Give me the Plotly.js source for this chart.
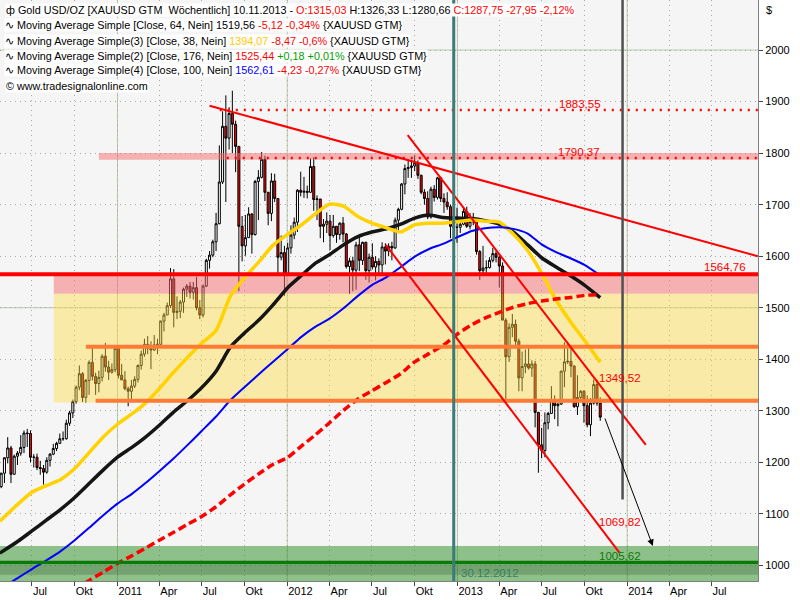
<!DOCTYPE html>
<html><head><meta charset="utf-8">
<script src="https://cdn.plot.ly/plotly-3.0.1.min.js"></script>
<style>html,body{margin:0;padding:0;background:#fff}#chart{width:800px;height:600px}</style>
</head><body><div id="chart"></div>
<script>
// ================= DATA =================
const firstWeek = '2010-04-26';   // weekly candles (Monday of each week)
const opens = [
1153,1179,1209,1228,1177,1212,1218,1229,1257,1256,1210,1210,1190,1188,1181,1204,1216,1227,1237,1246,1246,1276,1296,1318,1346,1372,1326,1359,1394,1367,1353,1365,1406,1385,1375,1380,
1421,1369,1360,1343,1338,1348,1361,1388,1410,1429,1421,1418,1428,1429,1474,1486,1504,1556,1491,1493,1511,1536,1542,1530,1539,1500,1486,1542,1592,1602,1628,1663,1744,1852,1829,1877,1856,1813,1658,1620,1636,1682,1642,1745,1753,1788,1724,1683,1746,1712,1598,1607,
1565,1616,1641,1666,1728,1724,1726,1724,1774,1710,1711,1658,1662,1668,1640,1658,1642,1664,1643,1580,1591,1573,1622,1592,1627,1572,1598,1579,1590,1583,1618,1610,1619,1616,1670,1691,1740,1770,1772,1775,1781,1757,1724,1712,1676,1730,1714,1752,1712,1705,1696,1658,1656,
1656,1662,1687,1658,1667,1667,1609,1572,1577,1578,1592,1605,1598,1581,1476,1405,1462,1468,1435,1364,1386,1391,1383,1391,1297,1234,1223,1277,1295,1322,1310,1313,1377,1395,1396,1387,1308,1326,1338,1310,1273,1315,1351,1315.03];
const highs = [
1180,1210,1249,1232,1215,1222,1253,1262,1265,1262,1216,1217,1203,1195,1210,1218,1236,1240,1256,1260,1283,1300,1322,1349,1388,1375,1362,1398,1424,1374,1378,1410,1432,1397,1392,1424,
1423,1391,1377,1347,1360,1367,1390,1417,1440,1445,1435,1447,1440,1475,1490,1510,1577,1575,1522,1515,1539,1546,1550,1550,1560,1515,1545,1595,1610,1632,1684,1815,1881,1912,1889,1921,1863,1813,1678,1680,1695,1683,1748,1767,1802,1795,1724,1761,1760,1712,1640,1620,
1626,1660,1675,1730,1764,1754,1737,1790,1792,1718,1711,1672,1685,1680,1680,1658,1666,1676,1645,1597,1599,1628,1641,1628,1628,1605,1625,1600,1596,1627,1625,1625,1628,1675,1694,1742,1778,1788,1787,1796,1786,1758,1730,1726,1735,1738,1754,1754,1722,1724,1700,1670,1694,
1672,1695,1696,1684,1684,1668,1612,1620,1592,1598,1616,1611,1605,1588,1480,1470,1488,1477,1440,1415,1419,1424,1398,1397,1298,1267,1297,1298,1348,1330,1315,1378,1433,1434,1420,1388,1369,1340,1340,1330,1325,1361,1361,1326.33];
const lows = [
1150,1160,1198,1160,1176,1195,1213,1218,1230,1200,1190,1185,1176,1157,1178,1192,1214,1222,1236,1242,1244,1271,1286,1314,1340,1317,1316,1331,1359,1331,1336,1357,1376,1360,1372,1375,
1363,1360,1340,1309,1320,1344,1355,1380,1405,1410,1381,1416,1410,1425,1454,1486,1500,1462,1478,1480,1490,1521,1518,1516,1495,1478,1481,1540,1576,1598,1610,1662,1740,1705,1807,1800,1763,1532,1590,1601,1636,1605,1640,1670,1751,1707,1660,1668,1705,1564,1592,1523,
1565,1605,1633,1647,1716,1713,1712,1723,1688,1670,1635,1627,1645,1612,1636,1626,1632,1627,1576,1527,1532,1535,1571,1583,1554,1549,1574,1553,1565,1565,1584,1600,1592,1614,1647,1689,1720,1752,1752,1765,1750,1720,1700,1672,1673,1706,1710,1705,1684,1690,1635,1643,1626,
1645,1660,1655,1652,1660,1603,1554,1565,1562,1576,1588,1588,1539,1476,1321,1395,1443,1425,1338,1338,1373,1380,1366,1268,1180,1208,1210,1264,1294,1284,1270,1312,1346,1391,1365,1306,1292,1318,1277,1268,1251,1312,1310,1280.66];
const closes = [
1179,1209,1228,1177,1212,1218,1229,1257,1256,1210,1210,1190,1188,1181,1204,1216,1227,1237,1246,1246,1276,1296,1318,1346,1372,1326,1359,1394,1367,1353,1365,1406,1385,1375,1380,1421,
1369,1360,1343,1338,1348,1361,1388,1410,1429,1421,1418,1428,1429,1474,1486,1504,1556,1491,1493,1511,1536,1542,1530,1539,1500,1486,1542,1592,1602,1628,1663,1744,1852,1829,1877,1856,1813,1658,1620,1636,1682,1642,1745,1753,1788,1724,1683,1746,1712,1598,1607,1565,
1616,1641,1666,1728,1724,1726,1724,1774,1710,1711,1658,1662,1668,1640,1658,1642,1664,1643,1580,1591,1573,1622,1592,1627,1572,1598,1579,1590,1583,1618,1610,1619,1616,1670,1691,1740,1770,1772,1775,1781,1757,1724,1712,1676,1730,1714,1752,1712,1705,1696,1658,1656,1656,
1662,1687,1658,1667,1667,1609,1572,1577,1578,1592,1605,1598,1581,1476,1405,1462,1468,1435,1364,1386,1391,1383,1391,1297,1234,1223,1277,1295,1322,1310,1313,1377,1395,1396,1387,1308,1326,1338,1310,1273,1315,1351,1315,1287.75];

// Moving averages (monthly samples)
const maDates = ['2010-04-23','2010-06-01','2010-07-01','2010-08-01','2010-09-01','2010-10-01','2010-11-01','2010-12-01',
'2011-01-01','2011-02-01','2011-03-01','2011-04-01','2011-05-01','2011-06-01','2011-07-01','2011-08-01','2011-09-01','2011-10-01','2011-11-01','2011-12-01',
'2012-01-01','2012-02-01','2012-03-01','2012-04-01','2012-05-01','2012-06-01','2012-07-01','2012-08-01','2012-09-01','2012-10-01','2012-11-01','2012-12-01',
'2013-01-01','2013-02-01','2013-03-01','2013-04-01','2013-05-01','2013-06-01','2013-07-01','2013-08-01','2013-09-01','2013-10-01','2013-11-04'];
const sma64 = [1024,1047,1067,1088,1109,1132,1159,1185, 1210,1229,1248,1272,1297,1320,1345,1377,1424,1451,1476,1505, 1538,1563,1586,1603,1622,1638,1647,1653,1662,1674,1680,1675, 1674,1673,1669,1662,1647,1622,1597,1579,1562,1544, 1519.56];
const sma38 = [1086,1119,1142,1155,1167,1188,1219,1249, 1274,1294,1314,1343,1374,1404,1431,1456,1523,1558,1589,1621, 1642,1661,1682,1701,1697,1677,1664,1655,1647,1661,1664,1664, 1667,1670,1668,1666,1643,1611,1567,1515,1473,1437, 1394.07];
const sma176 = [null,null,null,null,null,954,971,987, 1004,1019,1033,1049,1064,1080,1095,1114,1137,1158,1178,1196, 1209,1232,1253,1277,1301,1323,1339,1355,1372,1395,1411,1427, 1449,1467,1480,1491,1501,1508,1513,1517,1520,1524, 1525.44];
const sma100 = [954,976,993,1010,1028,1049,1073,1097, 1120,1139,1159,1183,1207,1234,1261,1289,1321,1346,1371,1395, 1419,1444,1463,1479,1499,1523,1544,1559,1579,1599,1614,1624, 1637,1649,1654,1656,1653,1644,1623,1608,1596,1583, 1562.61];

// Zones (start date, low, high)
const zoneStarts = ['2010-11-22','2010-08-17','2010-08-17','2010-04-01','2010-04-01'];
const zoneLows   = [1787, 1527, 1316, 950, 982];
const zoneHighs  = [1800, 1564.76, 1527, 1038, 1001];

// Horizontal levels (value, start date)
const levelValues = [1883.55, 1790.37, 1564.76, 1424.5, 1319.5, 1005.62];
const levelStarts = ['2011-08-09','2011-08-24','2010-04-01','2010-10-25','2010-11-15','2010-04-01'];
const levelLabels = ['1883,55','1790,37','1564,76','1349,52','1069,82','1005,62'];

// Trend lines [date0, date1], [price0, price1]
const trendDates  = [['2011-07-18','2014-10-09'], ['2012-09-16','2014-02-10'], ['2012-07-31','2013-12-16']];
const trendPrices = [[1892, 1600], [1835, 1234], [1622, 1024]];
const arrowFrom = ['2013-11-13', 1288];
const arrowTo   = ['2014-02-25', 1038];
const markerBar = '2012-12-24';      // bar of the week ending 30.12.2012
const markerLabel = '30.12.2012';
const cursorDate = '2013-12-22';
const cursorLow = 1128;

const quarterTicks = ['2010-07-01','2010-10-01','2011-01-01','2011-04-01','2011-07-01','2011-10-01','2012-01-01','2012-04-01','2012-07-01','2012-10-01','2013-01-01','2013-04-01','2013-07-01','2013-10-01','2014-01-01','2014-04-01','2014-07-01'];
const quarterLabels = ['Jul','Okt','2011','Apr','Jul','Okt','2012','Apr','Jul','Okt','2013','Apr','Jul','Okt','2014','Apr','Jul'];
const yearTicks = ['2011-01-01','2012-01-01','2013-01-01','2014-01-01'];
const priceTicks = [1000,1100,1200,1300,1400,1500,1600,1700,1800,1900,2000];
const solidPriceLines = [1500, 2000];

// ================= BUILD =================
const X0 = '2010-04-23 10:00', X1 = '2014-10-09 05:00';
const Y0 = 969.93, Y1 = 2097;
const PW = 758, PH = 581;
const px = v => v / PW, py = v => 1 - v / PH;

const startMs = Date.parse(firstWeek + 'T00:00:00Z');
const weekDates = opens.map((_, i) => new Date(startMs + i * 7 * 86400000).toISOString().slice(0, 10));

const traces = [];
traces.push({
  type: 'candlestick', x: weekDates, open: opens, high: highs, low: lows, close: closes,
  increasing: {line: {color: '#000000', width: 1}, fillcolor: '#ffffff'},
  decreasing: {line: {color: '#000000', width: 1}, fillcolor: '#ff0000'},
  whiskerwidth: 0, hoverinfo: 'skip'
});

const zoneColors = ['rgba(245,110,110,0.5)','rgba(245,110,110,0.5)','rgba(255,220,60,0.42)','rgba(40,140,30,0.5)','rgba(40,70,40,0.25)'];
zoneStarts.forEach((s, i) => {
  traces.push({type: 'scatter', mode: 'lines', x: [s, X1, X1, s, s],
    y: [zoneLows[i], zoneLows[i], zoneHighs[i], zoneHighs[i], zoneLows[i]],
    fill: 'toself', fillcolor: zoneColors[i], line: {width: 0}, hoverinfo: 'skip'});
});

const maStyle = [
  [sma64, {color: '#151515', width: 3.5}],
  [sma38, {color: '#ffd200', width: 3.5}],
  [sma176, {color: '#ff0000', width: 3.5, dash: '8px,4px'}],
  [sma100, {color: '#0000ff', width: 2}]
];
maStyle.forEach(([vals, ln]) => {
  traces.push({type: 'scatter', mode: 'lines', x: maDates, y: vals,
    line: Object.assign({shape: 'spline', smoothing: 0.6}, ln), hoverinfo: 'skip'});
});

const levelStyle = [
  {color: '#ff0000', width: 2.5, dash: '2px,6px'},
  {color: '#ff0000', width: 2.5, dash: '2px,6px'},
  {color: '#ff0000', width: 4},
  {color: '#ff7b35', width: 4},
  {color: '#ff7b35', width: 4},
  {color: '#0a7a0a', width: 3.5}
];
levelValues.forEach((v, i) => {
  traces.push({type: 'scatter', mode: 'lines', x: [levelStarts[i], X1], y: [v, v],
    line: levelStyle[i], hoverinfo: 'skip'});
});

trendDates.forEach((d, i) => {
  traces.push({type: 'scatter', mode: 'lines', x: d, y: trendPrices[i],
    line: {color: '#ff0000', width: 2}, hoverinfo: 'skip'});
});

traces.push({type: 'scatter', mode: 'lines', x: [markerBar, markerBar], y: [Y0, Y1],
  line: {color: '#3d7b78', width: 3}, hoverinfo: 'skip'});
traces.push({type: 'scatter', mode: 'lines', x: [cursorDate, cursorDate], y: [cursorLow, Y1],
  line: {color: '#505050', width: 2.5}, hoverinfo: 'skip'});

// ---- shapes: solid grid lines ----
const shapes = [];
yearTicks.forEach(d => shapes.push({type: 'line', layer: 'below', xref: 'x', yref: 'paper', x0: d, x1: d, y0: 0, y1: 1,
  line: {color: '#b6c9aa', width: 1}}));
solidPriceLines.forEach(v => shapes.push({type: 'line', layer: 'below', xref: 'paper', yref: 'y', x0: 0, x1: 1, y0: v, y1: v,
  line: {color: '#b6c9aa', width: 1}}));

// ---- annotations ----
const RED = '#ff0000';
const sp = (c, t) => '<span style="color:' + c + '">' + t + '</span>';
const headerLines = [
  'ф Gold USD/OZ [XAUUSD GTM \u00a0Wöchentlich] 10.11.2013 - ' + sp(RED, 'O:1315,03') + ' H:1326,33 L:1280,66 ' + sp(RED, 'C:1287,75 -27,95 -2,12%'),
  '∿ Moving Average Simple [Close, 64, Nein] 1519,56 ' + sp(RED, '-5,12 -0,34%') + ' {XAUUSD GTM}',
  '∿ Moving Average Simple(3) [Close, 38, Nein] ' + sp('#ffc800', '1394,07') + ' ' + sp(RED, '-8,47 -0,6%') + ' {XAUUSD GTM}',
  '∿ Moving Average Simple(2) [Close, 176, Nein] ' + sp(RED, '1525,44') + ' ' + sp('#00a000', '+0,18 +0,01%') + ' {XAUUSD GTM}',
  '∿ Moving Average Simple(4) [Close, 100, Nein] ' + sp('#0000ff', '1562,61') + ' ' + sp(RED, '-4,23 -0,27%') + ' {XAUUSD GTM}',
  '© www.tradesignalonline.com'
];
const headerY = [10, 25.3, 40.7, 55.6, 70.5, 86];
const headerX = [5, 4, 4, 4, 4, 5];
const annotations = [];
headerLines.forEach((t, i) => annotations.push({xref: 'paper', yref: 'paper', x: px(headerX[i]), y: py(headerY[i]),
  xanchor: 'left', yanchor: 'middle', text: t, showarrow: false, bgcolor: '#ffffff', borderpad: 0,
  font: {size: 10.8, color: '#000'}}));

const labelPos = [[580, 104.3], [579, 152.3], [725, 267.3], [620, 378.3], [620, 522.3], [620, 555.7]];
const labelColor = [RED, RED, RED, RED, RED, '#0a7a0a'];
levelLabels.forEach((t, i) => annotations.push({xref: 'paper', yref: 'paper', x: px(labelPos[i][0]), y: py(labelPos[i][1]),
  xanchor: 'center', yanchor: 'middle', text: t, showarrow: false, font: {size: 11.5, color: labelColor[i]}}));

annotations.push({xref: 'paper', yref: 'paper', x: px(459), y: py(572.5), xanchor: 'left', yanchor: 'middle',
  text: markerLabel, showarrow: false, font: {size: 11.5, color: '#3a7d62'}});
annotations.push({xref: 'paper', yref: 'paper', x: px(764), y: py(10), xanchor: 'left', yanchor: 'middle',
  text: '$', showarrow: false, font: {size: 11, color: '#000'}});
annotations.push({xref: 'x', yref: 'y', axref: 'x', ayref: 'y', x: arrowTo[0], y: arrowTo[1], ax: arrowFrom[0], ay: arrowFrom[1],
  text: '', showarrow: true, arrowhead: 2, arrowsize: 1.3, arrowwidth: 1, arrowcolor: '#000000', standoff: 0, startstandoff: 0});

const layout = {
  width: 800, height: 600,
  margin: {l: 0, r: 42, t: 0, b: 19, pad: 0},
  paper_bgcolor: '#ffffff', plot_bgcolor: '#f5f5f5',
  showlegend: false, hovermode: false, boxgap: 0.12,
  font: {family: '"Liberation Sans", Arial, sans-serif', size: 11, color: '#000'},
  xaxis: {
    type: 'date', range: [X0, X1], rangeslider: {visible: false}, fixedrange: true,
    tickmode: 'array', tickvals: quarterTicks, ticktext: quarterLabels,
    ticks: 'outside', ticklen: 4, tickcolor: '#444', tickwidth: 1,
    ticklabelposition: 'outside right',
    tickfont: {size: 11, color: '#000'},
    showgrid: true, gridcolor: '#a8a8a8', griddash: '1px,4px', gridwidth: 1,
    showline: true, linecolor: '#808080', linewidth: 1, mirror: true, zeroline: false
  },
  yaxis: {
    side: 'right', range: [Y0, Y1], fixedrange: true,
    tickmode: 'array', tickvals: priceTicks, ticktext: priceTicks.map(String),
    ticks: 'outside', ticklen: 4, tickcolor: '#444', tickwidth: 1,
    tickfont: {size: 11, color: '#000'},
    showgrid: true, gridcolor: '#a8a8a8', griddash: '1px,4px', gridwidth: 1,
    showline: true, linecolor: '#808080', linewidth: 1, mirror: true, zeroline: false
  },
  shapes: shapes,
  annotations: annotations
};

Plotly.newPlot('chart', traces, layout, {displayModeBar: false, staticPlot: true});
</script>
</body></html>
